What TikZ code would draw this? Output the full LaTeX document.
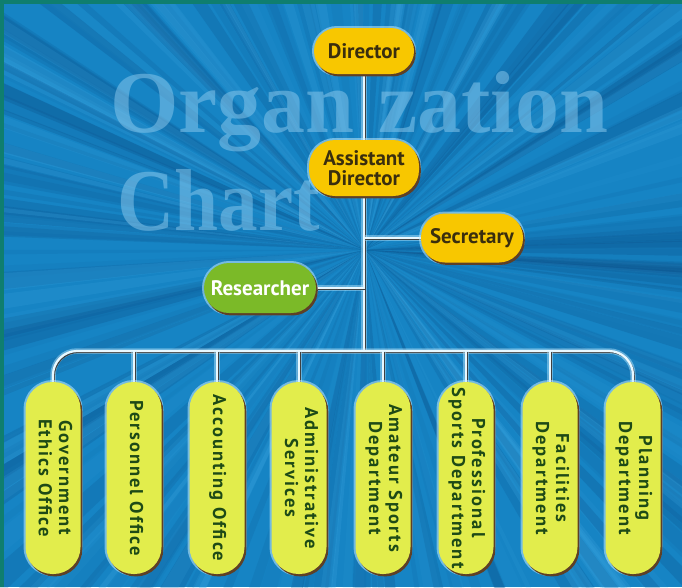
\documentclass[tikz,border=0pt]{standalone}
\usepackage{fontspec}
\setmainfont{PT Sans}
\newfontfamily\titlefont{Liberation Serif}
\newfontfamily\titlefontc[FakeStretch=0.9]{Liberation Serif}
\usetikzlibrary{calc}
\pgfdeclarelayer{bg}
\pgfdeclarelayer{wires}
\pgfsetlayers{bg,wires,main}
\definecolor{bgblue}{HTML}{1684C4}
\definecolor{raydark}{HTML}{0A4C85}
\definecolor{raylight}{HTML}{3FA8E2}
\definecolor{tealframe}{HTML}{0F7E6F}
\definecolor{gold}{HTML}{F8C700}
\definecolor{lime}{HTML}{E2ED4C}
\definecolor{leaf}{HTML}{7BBA28}
\definecolor{shadowc}{HTML}{5E4026}
\definecolor{glowc}{HTML}{BFEAFF}
\definecolor{wirec}{HTML}{E8F8FF}
\definecolor{darktext}{HTML}{3A2E0E}
\definecolor{greentext}{HTML}{1E4A16}
\definecolor{titlec}{HTML}{8FCBEE}
\tikzset{
  pill/.style={rectangle, rounded corners=#1, inner sep=0pt, draw=none, align=center,
    preaction={draw=glowc, line width=4pt, opacity=0.55},
    preaction={fill=shadowc, transform canvas={shift={(1.8pt,-2.4pt)}}}},
  toppill/.style={pill=#1, fill=gold, text=darktext, font=\bfseries\fontsize{21}{20}\selectfont},
  respill/.style={pill=25pt, fill=leaf, text=white, font=\bfseries\fontsize{21}{20}\selectfont},
  deptpill/.style={pill=27pt, fill=lime, text=greentext, minimum width=55pt, minimum height=192pt,
    font=\bfseries\fontsize{18.5}{20}\selectfont\addfontfeatures{LetterSpace=11}},
  wire/.style={line width=2.2pt, draw=wirec,
    preaction={draw=glowc, line width=5.5pt, opacity=0.45},
    preaction={draw=black!75, line width=1.3pt, transform canvas={shift={(1.2pt,-1.4pt)}}}},
  titletext/.style={anchor=base west, inner sep=0pt, text=titlec, opacity=0.5,
    font=\titlefont\bfseries\fontsize{88}{88}\selectfont}
}
\newcommand{\vlabel}[1]{\rotatebox{-90}{\begin{tabular}{@{}c@{}}#1\end{tabular}}}
\begin{document}
\begin{tikzpicture}[x=1pt,y=-1pt]
\useasboundingbox (0,0) rectangle (682,587);
\begin{pgfonlayer}{bg}
\begin{scope}
  \clip (0,0) rectangle (682,587);
  \fill[bgblue] (0,0) rectangle (682,587);
  \pgfmathsetseed{42}
  \foreach \k in {1,...,260}{
    \pgfmathsetmacro\a{360*rnd}
    \pgfmathsetmacro\w{0.6+2.5*rnd}
    \pgfmathsetmacro\o{0.05+0.2*rnd}
    \pgfmathsetmacro\c{rnd}
    \ifdim\c pt<0.62pt \def\rc{raydark}\else\def\rc{raylight}\fi
    \fill[\rc, opacity=\o] (365,250) -- +(\a:800) -- +(\a+\w:800) -- cycle;
  }
  \fill[tealframe] (0,0) rectangle (682,4);
  \fill[tealframe] (0,0) rectangle (4,587);
\end{scope}
\node[titletext] (t1) at (110,132) {Organ};
\node[titletext] (t2) at (378,132) {zation};
\node[titletext, font=\titlefontc\bfseries\fontsize{88}{88}\selectfont] (t3) at (117,230) {Chart};
\end{pgfonlayer}

% top nodes
\node[toppill=23pt, minimum width=100pt, minimum height=46pt] (dir) at (364,51) {Director};
\node[toppill=26pt, minimum width=110pt, minimum height=56pt] (asst) at (364,168) {Assistant\\Director};
\node[toppill=24pt, minimum width=102pt, minimum height=49pt] (sec) at (472,238) {Secretary};
\node[respill, minimum width=112pt, minimum height=50pt] (res) at (260,288) {Researcher};

% departments
\node[deptpill] (g1) at (53,478) {\vlabel{Government\\Ethics Office}};
\node[deptpill] (g2) at (134,478) {\vlabel{Personnel Office}};
\node[deptpill] (g3) at (217,478) {\vlabel{Accounting Office}};
\node[deptpill] (g4) at (299,478) {\vlabel{Administrative\\Services}};
\node[deptpill] (g5) at (383,478) {\vlabel{Amateur Sports\\Department}};
\node[deptpill] (g6) at (466,478) {\vlabel{Professional\\Sports Department}};
\node[deptpill] (g7) at (550,478) {\vlabel{Facilities\\Department}};
\node[deptpill] (g8) at (633,478) {\vlabel{Planning\\Department}};

\coordinate (bus) at (364,351);

\begin{pgfonlayer}{wires}
  \draw[wire] (dir.south) -- (asst.north);
  \draw[wire] (asst.south) -- (bus);
  \draw[wire] (sec.west) -- (sec.west -| bus);
  \draw[wire] (res.east) -- (res.east -| bus);
  \draw[wire, rounded corners=24pt] (g1.north) -- (g1.north |- bus) -- (g8.north |- bus) -- (g8.north);
  \foreach \i in {2,...,7}{
    \draw[wire] (g\i.north) -- (g\i.north |- bus);
  }
\end{pgfonlayer}
\end{tikzpicture}
\end{document}
